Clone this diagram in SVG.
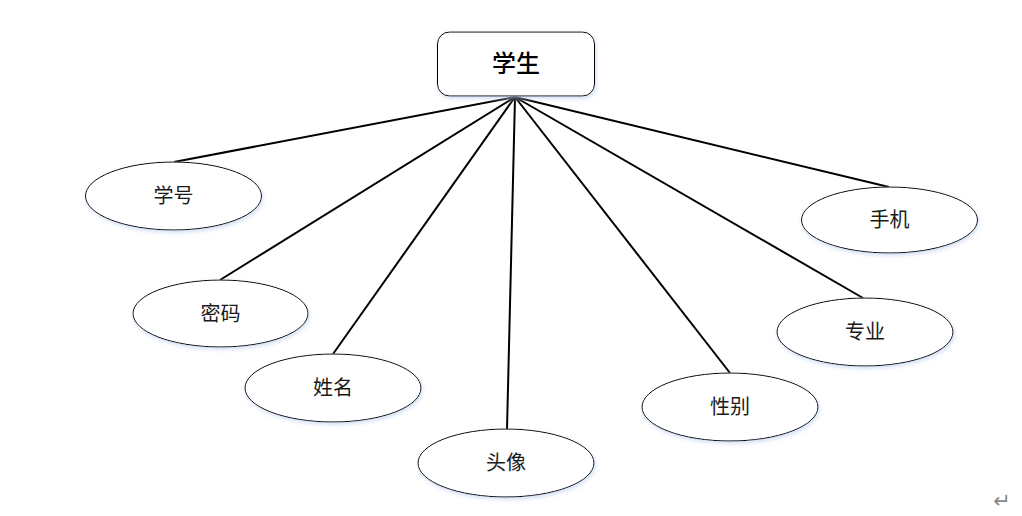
<svg xmlns="http://www.w3.org/2000/svg" width="1022" height="516" viewBox="0 0 1022 516">
<defs>
<filter id="sh" x="-20%" y="-30%" width="140%" height="160%">
<feGaussianBlur in="SourceAlpha" stdDeviation="2"/>
<feOffset dx="1" dy="2" result="b"/>
<feFlood flood-color="#bcd0ee" flood-opacity="0.7"/>
<feComposite in2="b" operator="in"/>
<feMerge><feMergeNode/><feMergeNode in="SourceGraphic"/></feMerge>
</filter>
</defs>
<style>
.e{fill:#fff;stroke:#000;stroke-width:1;filter:url(#sh)}
.t{font-family:"Noto Sans CJK SC",sans-serif;font-size:20px;fill:#1a1a1a;text-anchor:middle}
.c line{stroke:#000;stroke-width:2}
</style>
<rect width="1022" height="516" fill="#fff"/>
<g class="c" id="connectors">
<line x1="515" y1="97" x2="174" y2="162"/>
<line x1="515" y1="97" x2="220" y2="280"/>
<line x1="515" y1="97" x2="333" y2="354"/>
<line x1="515" y1="97" x2="507" y2="429"/>
<line x1="515" y1="97" x2="730" y2="373"/>
<line x1="515" y1="97" x2="863" y2="298"/>
<line x1="515" y1="97" x2="889" y2="187"/>
</g>
<g id="student">
<rect x="437.5" y="32" width="157" height="64" rx="12" class="e"/>
<text x="516" y="72" class="t" style="font-size:24px;font-weight:500;fill:#000">学生</text>
</g>
<g id="n1"><ellipse cx="173.5" cy="196" rx="88" ry="34" class="e"/><text x="173.5" y="203" class="t">学号</text></g>
<g id="n2"><ellipse cx="220.5" cy="313.5" rx="87.5" ry="33.5" class="e"/><text x="220.5" y="320.5" class="t">密码</text></g>
<g id="n3"><ellipse cx="333" cy="388" rx="88" ry="34" class="e"/><text x="333" y="395" class="t">姓名</text></g>
<g id="n4"><ellipse cx="506" cy="463" rx="88" ry="34" class="e"/><text x="506" y="470" class="t">头像</text></g>
<g id="n5"><ellipse cx="730" cy="407" rx="88" ry="34" class="e"/><text x="730" y="414" class="t">性别</text></g>
<g id="n6"><ellipse cx="865" cy="332" rx="88" ry="34" class="e"/><text x="865" y="339" class="t">专业</text></g>
<g id="n7"><ellipse cx="889.5" cy="220" rx="88" ry="33" class="e"/><text x="889.5" y="227" class="t">手机</text></g>
<text x="1002" y="508" style="font-family:'DejaVu Sans',sans-serif;font-size:21px;fill:#888;text-anchor:middle">↵</text>
</svg>
